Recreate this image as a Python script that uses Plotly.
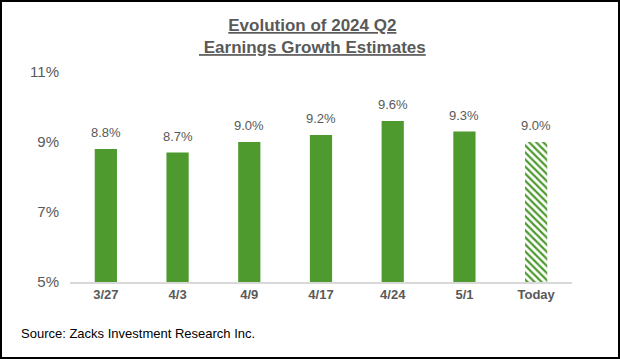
import plotly.graph_objects as go

categories = ["3/27", "4/3", "4/9", "4/17", "4/24", "5/1", "Today"]
values = [8.8, 8.7, 9.0, 9.2, 9.6, 9.3, 9.0]
y_ticks = [5, 7, 9, 11]
title_lines = ["Evolution of 2024 Q2", "\u00a0Earnings Growth Estimates"]
source_text = "Source: Zacks Investment Research Inc."

GREEN = "#4E9A2F"
GRAY = "#595959"
FONT = "Liberation Sans, Arial, sans-serif"

W, H = 620, 359
L, R, T, B = 70, 48, 72, 77
pw, ph = W - L - R, H - T - B

fig = go.Figure()
fig.add_trace(go.Bar(
    x=categories[:-1], y=values[:-1],
    marker=dict(color=GREEN, line=dict(width=0)),
    width=0.31, base=0, hoverinfo="skip",
))
fig.add_trace(go.Bar(
    x=categories[-1:], y=values[-1:],
    marker=dict(color="white", line=dict(width=0),
                pattern=dict(shape="\\", fgcolor=GREEN, bgcolor="white",
                             size=5, solidity=0.45, fillmode="replace")),
    width=0.31, base=0, hoverinfo="skip",
))

for c, v in zip(categories, values):
    fig.add_annotation(
        x=c, y=v, xref="x", yref="y", text=f"{v:.1f}%", showarrow=False,
        xanchor="center", yanchor="bottom", yshift=7,
        font=dict(size=13, color=GRAY, family=FONT),
    )

fig.update_layout(
    width=W, height=H, margin=dict(l=L, r=R, t=T, b=B),
    paper_bgcolor="white", plot_bgcolor="white", showlegend=False,
    barmode="overlay",
    font=dict(family=FONT, color=GRAY),
    xaxis=dict(categoryorder="array", categoryarray=categories,
               showline=True, linecolor="#D9D9D9", linewidth=1.5,
               ticks="", tickfont=dict(size=13, color=GRAY, family=FONT),
               showgrid=False, zeroline=False),
    yaxis=dict(range=[5, 11], tickvals=y_ticks, ticktext=[f"{t}%" for t in y_ticks],
               showgrid=False, zeroline=False, showline=False, ticks="",
               tickfont=dict(size=15, color=GRAY, family=FONT), ticklabelstandoff=10),
)
fig.update_xaxes(tickprefix="<b>", ticksuffix="</b>")

fig.add_annotation(
    text="<b><u>" + title_lines[0] + "</u></b><br><b><u>" + title_lines[1] + "</u></b>",
    xref="paper", yref="paper", x=(312 - L) / pw, y=(H - B - 14) / ph,
    xanchor="center", yanchor="top", showarrow=False,
    font=dict(size=17, color=GRAY, family=FONT), align="center",
)
fig.add_annotation(
    text=source_text, xref="paper", yref="paper",
    x=(19 - L) / pw, y=(H - B - 333) / ph, xanchor="left", yanchor="middle",
    showarrow=False, font=dict(size=13, color="#000000", family=FONT),
)
fig.add_shape(
    type="rect", xref="paper", yref="paper",
    x0=(1 - L) / pw, x1=(W - 1 - L) / pw,
    y0=(H - B - (H - 1)) / ph, y1=(H - B - 1) / ph,
    line=dict(color="black", width=2), fillcolor="rgba(0,0,0,0)", layer="above",
)

fig.write_html("out.html", config={"displayModeBar": False},
               post_script="document.body.style.margin='0';document.body.style.overflow='hidden';")
